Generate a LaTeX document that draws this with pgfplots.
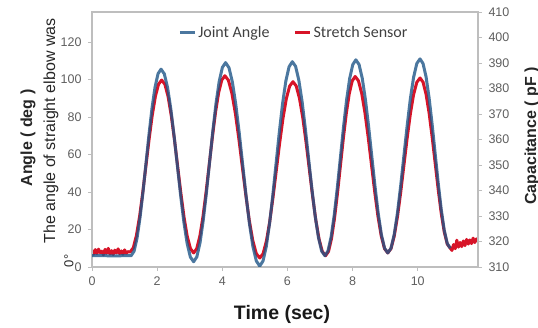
\documentclass[border=0pt]{standalone}
\usepackage{pgfplots}
\pgfplotsset{compat=1.18}
\usepackage{fontspec}
\setmainfont{Liberation Sans}
\newfontfamily\calibri{Carlito}
\definecolor{jblue}{RGB}{30,85,135}
\definecolor{sred}{RGB}{215,20,40}
\definecolor{axgray}{RGB}{190,190,190}
\definecolor{tkgray}{RGB}{95,95,95}
\begin{document}
\begin{tikzpicture}
\useasboundingbox (0,0) rectangle (538pt,328pt);
% right axis: stretch sensor (pF)
\begin{axis}[
  at={(92pt,61pt)}, anchor=south west,
  width=386pt, height=255pt, scale only axis,
  xmin=0, xmax=11.85, ymin=310, ymax=410,
  axis x line=none, axis y line*=right,
  ytick={310,320,...,410},
  tick align=outside, major tick length=4pt,
  axis line style={axgray, line width=1.2pt},
  tick style={axgray, line width=0.8pt},
  yticklabel style={font=\fontsize{12.5}{14}\selectfont, text=tkgray, xshift=3pt},
  /pgf/number format/assume math mode=true,
]
\addplot[sred, line width=3pt, line join=round] coordinates {
(0,316.5)(0.05,315.0)(0.10,316.8)(0.15,315.3)(0.20,317.0)(0.25,315.6)(0.30,316.2)(0.35,314.8)(0.40,316.9)(0.45,315.4)(0.50,317.3)(0.55,315.1)(0.60,316.4)(0.65,314.9)(0.70,316.6)(0.75,315.5)(0.80,317.1)(0.85,315.2)(0.90,316.3)(0.95,315.0)(1.00,316.7)(1.05,315.4)(1.10,316.0)(1.17,315.9)
(1.267,317.50)(1.364,322.35)(1.461,329.78)(1.558,339.19)(1.655,349.60)(1.752,360.00)(1.849,369.49)(1.946,376.91)(2.043,381.69)(2.14,383.31)
(2.238,381.62)(2.336,376.84)(2.434,369.34)(2.532,359.85)(2.63,349.41)(2.728,338.97)(2.826,329.49)(2.924,321.99)(3.022,317.21)(3.12,315.51)
(3.216,317.21)(3.312,322.13)(3.408,329.85)(3.504,339.56)(3.60,350.26)(3.696,360.96)(3.792,370.66)(3.888,378.38)(3.984,383.31)(4.08,385.00)
(4.187,383.24)(4.294,378.16)(4.401,370.29)(4.508,360.29)(4.615,349.26)(4.722,338.24)(4.829,328.24)(4.936,320.37)(5.043,315.29)(5.15,313.53)
(5.252,315.22)(5.354,320.15)(5.456,327.79)(5.558,337.43)(5.66,348.09)(5.762,358.75)(5.864,368.38)(5.966,376.03)(6.068,380.96)(6.17,382.65)
(6.27,380.96)(6.37,376.10)(6.47,368.60)(6.57,359.04)(6.67,348.53)(6.77,338.01)(6.87,328.46)(6.97,320.96)(7.07,316.10)(7.17,314.41)
(7.261,316.10)(7.352,321.10)(7.443,328.90)(7.534,338.68)(7.625,349.56)(7.716,360.44)(7.807,370.22)(7.898,378.01)(7.989,383.01)(8.08,384.71)
(8.18,383.01)(8.28,378.09)(8.38,370.44)(8.48,360.81)(8.58,350.11)(8.68,339.41)(8.78,329.78)(8.88,322.13)(8.98,317.21)(9.08,315.51)
(9.179,317.21)(9.278,322.06)(9.377,329.63)(9.476,339.19)(9.575,349.82)(9.674,360.44)(9.773,370.00)(9.872,377.57)(9.971,382.43)(10.07,384.12)
(10.163,382.50)(10.256,377.72)(10.349,370.37)(10.442,361.03)(10.535,350.74)(10.628,340.44)(10.721,331.10)(10.814,323.75)(10.907,318.97)(11.0,317.35)
(11.05,316.5)(11.1,318.8)(11.15,317.2)(11.2,320.5)(11.25,317.8)(11.3,319.6)(11.35,318.0)(11.4,320.2)(11.45,318.4)(11.5,320.8)(11.55,319.0)(11.6,320.6)(11.65,319.2)(11.7,321.3)(11.75,319.6)(11.8,321.0)(11.85,320.2)
};
\end{axis}
% left axis: joint angle (deg)
\begin{axis}[
  at={(92pt,61pt)}, anchor=south west,
  width=386pt, height=255pt, scale only axis,
  xmin=0, xmax=11.85, ymin=0, ymax=136,
  xtick={0,2,...,10}, ytick={0,20,...,120},
  xtick pos=bottom, ytick pos=left,
  tick align=outside, major tick length=4pt,
  axis line style={axgray, line width=1.2pt},
  tick style={axgray, line width=0.8pt},
  ticklabel style={font=\fontsize{12.5}{14}\selectfont, text=tkgray},
  yticklabel style={xshift=-3pt},
  xticklabel style={yshift=-2pt},
  /pgf/number format/assume math mode=true,
  legend style={at={(rel axis cs:0.523,0.92)}, anchor=center, draw=none, fill=none,
    font=\calibri\fontsize{16}{18}\selectfont, text=black!75},
  legend columns=2,
  legend cell align=left,
  /tikz/every even column/.append style={column sep=22pt},
  legend image code/.code={\draw[#1] (0pt,0pt) -- (15pt,0pt);},
]
\addplot[jblue, line width=3pt, line join=round, opacity=0.8] coordinates {
(0,6)(0.3,6.1)(0.6,5.9)(0.9,6.0)(1.2,6)
(1.292,8.4)(1.384,15.5)(1.476,26.5)(1.568,40.4)(1.66,55.75)(1.752,71.1)(1.844,85.0)(1.936,96.0)(2.028,103.1)(2.12,105.5)
(2.22,103.0)(2.32,95.7)(2.42,84.3)(2.52,70.0)(2.62,54.15)(2.72,38.3)(2.82,24.0)(2.92,12.6)(3.02,5.3)(3.12,2.8)
(3.218,5.4)(3.316,12.9)(3.414,24.7)(3.512,39.5)(3.61,55.9)(3.708,72.3)(3.806,87.1)(3.904,98.9)(4.002,106.4)(4.10,109)
(4.205,106.3)(4.31,98.6)(4.415,86.6)(4.52,71.5)(4.625,54.75)(4.73,38.0)(4.835,22.9)(4.94,10.9)(5.045,3.2)(5.15,0.5)
(5.25,3.2)(5.35,10.9)(5.45,23.0)(5.55,38.2)(5.65,55.0)(5.75,71.8)(5.85,87.0)(5.95,99.1)(6.05,106.8)(6.15,109.5)
(6.25,107.0)(6.35,99.6)(6.45,88.2)(6.55,73.7)(6.65,57.75)(6.75,41.8)(6.85,27.3)(6.95,15.9)(7.05,8.5)(7.15,6)
(7.245,8.6)(7.34,16.0)(7.435,27.5)(7.53,42.1)(7.625,58.25)(7.72,74.4)(7.815,89.0)(7.91,100.5)(8.005,107.9)(8.10,110.5)
(8.198,108.0)(8.296,100.7)(8.394,89.3)(8.492,74.9)(8.59,59.0)(8.688,43.1)(8.786,28.7)(8.884,17.3)(8.982,10.0)(9.08,7.5)
(9.179,10.0)(9.278,17.4)(9.377,28.8)(9.476,43.3)(9.575,59.25)(9.674,75.2)(9.773,89.7)(9.872,101.1)(9.971,108.5)(10.07,111)
(10.163,108.5)(10.256,101.4)(10.349,90.2)(10.442,76.1)(10.535,60.5)(10.628,44.9)(10.721,30.8)(10.814,19.6)(10.907,12.5)(11.0,10)
};
\addlegendentry{Joint Angle}
\addlegendimage{sred, line width=3pt}
\addlegendentry{Stretch Sensor}
\end{axis}
\node[rotate=90, font=\bfseries\fontsize{16}{18}\selectfont, text=black!85] at (28pt,190pt) {Angle ( deg )};
\node[rotate=90, font=\fontsize{16}{18}\selectfont, text=black!85] at (51pt,197pt) {The angle of straight elbow was};
\node[rotate=90, font=\fontsize{13}{15}\selectfont, text=black!85] at (69pt,67pt) {0\textdegree};
\node[rotate=90, anchor=base, font=\bfseries\fontsize{16}{18}\selectfont, text=black!85] at (536pt,192pt) {Capacitance ( pF )};
\node[font=\bfseries\fontsize{19.5}{22}\selectfont, text=black!90] at (282pt,14pt) {Time (sec)};
\end{tikzpicture}
\end{document}
